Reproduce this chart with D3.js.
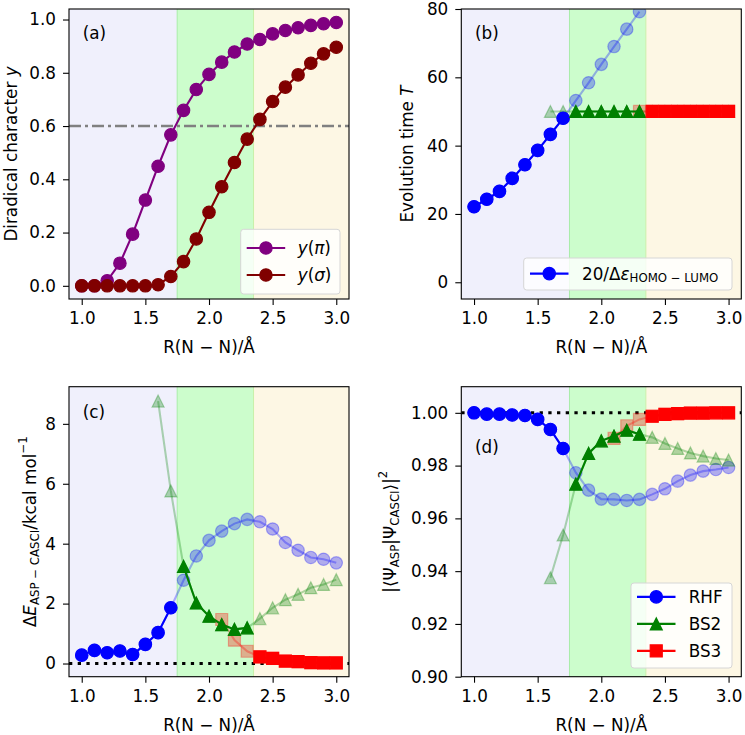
<!DOCTYPE html>
<html>
<head>
<meta charset="utf-8">
<script src="https://cdn.jsdelivr.net/npm/d3@7"></script>
<style>
  body { margin: 0; background: #fff; }
  svg text { font-family: "DejaVu Sans", sans-serif; fill: #000; }
</style>
</head>
<body>
<div class="canvas"></div>
<script>
// bond length R(N-N) in Angstrom
const R = [1.0, 1.1, 1.2, 1.3, 1.4, 1.5, 1.6, 1.7, 1.8, 1.9, 2.0,
           2.1, 2.2, 2.3, 2.4, 2.5, 2.6, 2.7, 2.8, 2.9, 3.0];
const xTicks = [1.0, 1.5, 2.0, 2.5, 3.0];
const regionEdges = [1.75, 2.35];

// (a) diradical character
const yPi = [0.0, 0.0, 0.019, 0.085, 0.194, 0.322, 0.449, 0.567, 0.659, 0.737, 0.794,
             0.840, 0.878, 0.908, 0.925, 0.946, 0.959, 0.969, 0.978, 0.984, 0.989];
const ySigma = [0.0, 0.0, 0.0, 0.0, 0.0, 0.0, 0.004, 0.035, 0.091, 0.176, 0.276,
                0.372, 0.463, 0.551, 0.625, 0.692, 0.746, 0.792, 0.836, 0.871, 0.896];
const yThreshold = 0.6;
const yTicksA = [0.0, 0.2, 0.4, 0.6, 0.8, 1.0];

// (b) evolution time
const tRHF = [22.1, 24.3, 26.6, 30.4, 34.4, 38.6, 43.3, 48.0, 53.2, 58.4, 63.8,
              69.0, 74.1, 79.2, null, null, null, null, null, null, null];
const tBS2 = [null, null, null, null, null, null, 50, 50, 50, 50, 50,
              50, 50, 50, 50, 50, 50, 50, 50, 50, 50];
const tBS3 = [null, null, null, null, null, null, null, null, null, null, null,
              null, null, 50, 50, 50, 50, 50, 50, 50, 50];
const yTicksB = [0, 20, 40, 60, 80];

// (c) energy error, kcal/mol
const eRHF = [0.28, 0.44, 0.36, 0.42, 0.30, 0.64, 1.03, 1.86, 2.78, 3.59, 4.11,
              4.42, 4.67, 4.81, 4.73, 4.49, 4.04, 3.78, 3.54, 3.48, 3.36];
const eBS2 = [null, null, null, null, null, null, 8.76, 5.76, 3.24, 2.02, 1.58,
              1.30, 1.14, 1.19, 1.50, 1.86, 2.13, 2.31, 2.53, 2.64, 2.80];
const eBS3 = [null, null, null, null, null, null, null, null, null, null, null,
              1.47, 0.78, 0.41, 0.22, 0.17, 0.08, 0.06, 0.03, 0.02, 0.02];
const yTicksC = [0, 2, 4, 6, 8];

// (d) overlap with CASCI
const sRHF = [1.000, 0.9995, 0.9995, 0.9992, 0.9990, 0.9975, 0.9937, 0.9865, 0.9773, 0.9707, 0.9673,
              0.9672, 0.9668, 0.9672, 0.9691, 0.9712, 0.9741, 0.9764, 0.9779, 0.9785, 0.9793];
const sBS2 = [null, null, null, null, null, null, 0.9375, 0.9537, 0.9730, 0.9846, 0.9894,
              0.9912, 0.9934, 0.9919, 0.9907, 0.9884, 0.9865, 0.9848, 0.9836, 0.9827, 0.9821];
const sBS3 = [null, null, null, null, null, null, null, null, null, null, null,
              0.9903, 0.9951, 0.9975, 0.9987, 0.9994, 0.9997, 0.9999, 0.9999, 1.0, 1.0];
const yTicksD = [0.90, 0.92, 0.94, 0.96, 0.98, 1.00];

const W = 280, H = 290;
const FS = 16.8;
const regionColors = ['#f0f0fc', '#ccfdcc', '#fdf7e4'];

const svg = d3.select('.canvas')
  .append('svg')
  .attr('width', 745)
  .attr('height', 735);
const defs = svg.append('defs');

// mathtext-ish labels
const richText = (sel, parts, size) => {
  let shift = 0;
  parts.forEach(p => {
    const target = p.sub ? size * 0.28 : p.sup ? -size * 0.42 : 0;
    const ts = sel.append('tspan').text(p.t).attr('dy', target - shift);
    shift = target;
    if (p.i) ts.attr('font-style', 'italic');
    if (p.sub || p.sup) ts.attr('font-size', size * 0.7);
  });
};

const markerPath = {
  circle: r => `M${r},0A${r},${r} 0 1,1 ${-r},0A${r},${r} 0 1,1 ${r},0Z`,
  triangle: r => `M0,${-r}L${-r},${r}L${r},${r}Z`,
  square: r => `M${-r},${-r}H${r}V${r}H${-r}Z`
};
const markerSize = { circle: 6.2, triangle: 6.0, square: 6.0 };

const regionOf = r => r < regionEdges[0] ? 0 : r < regionEdges[1] ? 1 : 2;

const makePanel = (p) => {
  const g = svg.append('g').attr('transform', `translate(${p.left},${p.top})`);
  const x = d3.scaleLinear().domain([0.9, 3.1]).range([0, W]);
  const y = d3.scaleLinear().domain(p.yDomain).range([H, 0]);

  defs.append('clipPath').attr('id', 'clip-' + p.id)
    .append('rect').attr('width', W).attr('height', H);

  const bounds = [0.9, ...regionEdges, 3.1];
  g.selectAll('rect.region')
    .data(regionColors)
    .join('rect')
    .attr('class', 'region')
    .attr('x', (d, i) => x(bounds[i]))
    .attr('width', (d, i) => x(bounds[i + 1]) - x(bounds[i]))
    .attr('y', 0)
    .attr('height', H)
    .attr('fill', d => d);
  g.selectAll('line.edge')
    .data(regionEdges)
    .join('line')
    .attr('class', 'edge')
    .attr('x1', d => x(d)).attr('x2', d => x(d))
    .attr('y1', 0).attr('y2', H)
    .attr('stroke', (d, i) => i === 0 ? '#a8eca8' : '#c8f0a8')
    .attr('stroke-width', 1);

  const plot = g.append('g').attr('clip-path', `url(#clip-${p.id})`);

  // axes
  const xAxis = d3.axisBottom(x).tickValues(xTicks)
    .tickFormat(d3.format('.1f')).tickSize(6).tickPadding(7);
  const yAxis = d3.axisLeft(y).tickValues(p.yTicks)
    .tickFormat(d3.format(p.fmt)).tickSize(6).tickPadding(7);
  const xg = g.append('g').attr('transform', `translate(0,${H})`).call(xAxis);
  const yg = g.append('g').call(yAxis);
  [xg, yg].forEach(a => {
    a.select('.domain').remove();
    a.selectAll('line').attr('stroke', '#000').attr('stroke-width', 1.1);
    a.selectAll('text').attr('font-size', FS).attr('font-family', '"DejaVu Sans", sans-serif').attr('fill', '#000');
  });

  g.append('text')
    .attr('x', W / 2).attr('y', H + 48)
    .attr('text-anchor', 'middle')
    .attr('dominant-baseline', 'central')
    .attr('font-size', FS)
    .text('R(N − N)/Å');

  const yl = g.append('text')
    .attr('transform', `translate(${p.ylabelX},${H / 2}) rotate(-90)`)
    .attr('text-anchor', 'middle')
    .attr('dominant-baseline', 'central')
    .attr('font-size', FS);
  richText(yl, p.ylabel, FS);

  g.append('text')
    .attr('x', 13.7).attr('y', p.tagY)
    .attr('dominant-baseline', 'central')
    .attr('font-size', FS)
    .text(`(${p.id})`);

  return { g, plot, x, y };
};

const drawSeries = (panel, values, color, shape, opts) => {
  const { plot, x, y } = panel;
  let pts = R.map((r, i) => ({ r, v: values[i] })).filter(d => d.v != null);
  if (opts.region !== undefined) pts = pts.filter(d => regionOf(d.r) === opts.region);
  const a = opts.faded ? 0.3 : 1;
  const line = d3.line().x(d => x(d.r)).y(d => y(d.v));
  plot.append('path')
    .datum(pts)
    .attr('d', line)
    .attr('fill', 'none')
    .attr('stroke', color)
    .attr('stroke-opacity', a)
    .attr('stroke-width', 2.1);
  plot.selectAll(null)
    .data(pts)
    .enter()
    .append('path')
    .attr('transform', d => `translate(${x(d.r)},${y(d.v)})`)
    .attr('d', markerPath[shape](markerSize[shape]))
    .attr('fill', color)
    .attr('fill-opacity', a)
    .attr('stroke', color)
    .attr('stroke-opacity', a)
    .attr('stroke-width', 1.2);
};

const drawLegend = (panel, box, entries) => {
  const lg = panel.g.append('g');
  lg.append('rect')
    .attr('x', box.x).attr('y', box.y)
    .attr('width', box.w).attr('height', box.h)
    .attr('rx', 3)
    .attr('fill', '#fff').attr('fill-opacity', 0.8)
    .attr('stroke', '#d6d6d6').attr('stroke-width', 1);
  entries.forEach((e, i) => {
    const cy = box.row0 + i * box.step;
    lg.append('line')
      .attr('x1', box.lx).attr('x2', box.lx + 38.5)
      .attr('y1', cy).attr('y2', cy)
      .attr('stroke', e.color).attr('stroke-width', 2.1);
    lg.append('path')
      .attr('transform', `translate(${box.lx + 19.25},${cy})`)
      .attr('d', markerPath[e.shape](markerSize[e.shape]))
      .attr('fill', e.color).attr('stroke', e.color).attr('stroke-width', 1.2);
    const t = lg.append('text')
      .attr('x', box.tx).attr('y', cy)
      .attr('dominant-baseline', 'central')
      .attr('font-size', FS);
    richText(t, e.label, FS);
  });
};

const hline = (panel, v, color, width, dash) => {
  panel.plot.append('line')
    .attr('x1', 0).attr('x2', W)
    .attr('y1', panel.y(v)).attr('y2', panel.y(v))
    .attr('stroke', color).attr('stroke-width', width)
    .attr('stroke-dasharray', dash);
};

const frame = (panel) => {
  panel.g.append('rect')
    .attr('width', W).attr('height', H)
    .attr('fill', 'none').attr('stroke', '#000').attr('stroke-width', 1.1);
};

// ---- (a)
const pa = makePanel({ id: 'a', left: 69, top: 9, yDomain: [-0.0495, 1.0395], yTicks: yTicksA, fmt: '.1f',
  ylabelX: -58, tagY: 24.3,
  ylabel: [{ t: 'Diradical character ' }, { t: 'y', i: true }] });
hline(pa, yThreshold, '#808080', 2.5, '12,4,3,4');
drawSeries(pa, yPi, '#800080', 'circle', {});
drawSeries(pa, ySigma, '#800000', 'circle', {});
drawLegend(pa, { x: 171.7, y: 220.3, w: 99.3, h: 64.7, row0: 239, step: 27, lx: 177.7, tx: 228.7 }, [
  { color: '#800080', shape: 'circle', label: [{ t: 'y', i: true }, { t: '(' }, { t: 'π', i: true }, { t: ')' }] },
  { color: '#800000', shape: 'circle', label: [{ t: 'y', i: true }, { t: '(' }, { t: 'σ', i: true }, { t: ')' }] }
]);
frame(pa);

// ---- (b)
const pb = makePanel({ id: 'b', left: 461.3, top: 9, yDomain: [-4.9, 80], yTicks: yTicksB, fmt: 'd',
  ylabelX: -54, tagY: 24.3,
  ylabel: [{ t: 'Evolution time ' }, { t: 'T', i: true }] });
drawSeries(pb, tRHF, '#0000ff', 'circle', { faded: true });
drawSeries(pb, tBS2, '#008000', 'triangle', { faded: true });
drawSeries(pb, tBS3, '#ff0000', 'square', { faded: true });
drawSeries(pb, tRHF, '#0000ff', 'circle', { region: 0 });
drawSeries(pb, tBS2, '#008000', 'triangle', { region: 1 });
drawSeries(pb, tBS3, '#ff0000', 'square', { region: 2 });
drawLegend(pb, { x: 62.4, y: 249, w: 208.3, h: 32, row0: 264.6, step: 27, lx: 68.7, tx: 120.7 }, [
  { color: '#0000ff', shape: 'circle', label: [{ t: '20/Δ' }, { t: 'ε', i: true }, { t: 'HOMO − LUMO', sub: true }] }
]);
frame(pb);

// ---- (c)
const pc = makePanel({ id: 'c', left: 69, top: 386.7, yDomain: [-0.44, 9.24], yTicks: yTicksC, fmt: 'd',
  ylabelX: -39, tagY: 25.3,
  ylabel: [{ t: 'Δ' }, { t: 'E', i: true }, { t: 'ASP − CASCI', sub: true }, { t: '/kcal mol' }, { t: '−1', sup: true }] });
hline(pc, 0, '#000', 3, '3.3,5.4');
drawSeries(pc, eRHF, '#0000ff', 'circle', { faded: true });
drawSeries(pc, eBS2, '#008000', 'triangle', { faded: true });
drawSeries(pc, eBS3, '#ff0000', 'square', { faded: true });
drawSeries(pc, eRHF, '#0000ff', 'circle', { region: 0 });
drawSeries(pc, eBS2, '#008000', 'triangle', { region: 1 });
drawSeries(pc, eBS3, '#ff0000', 'square', { region: 2 });
frame(pc);

// ---- (d)
const pd = makePanel({ id: 'd', left: 461.3, top: 386.7, yDomain: [0.90, 1.0099], yTicks: yTicksD, fmt: '.2f',
  ylabelX: -71, tagY: 60.3,
  ylabel: [{ t: '|⟨Ψ' }, { t: 'ASP', sub: true }, { t: '|Ψ' }, { t: 'CASCI', sub: true }, { t: '⟩|' }, { t: '2', sup: true }] });
hline(pd, 1.0, '#000', 3, '3.3,5.4');
drawSeries(pd, sRHF, '#0000ff', 'circle', { faded: true });
drawSeries(pd, sBS2, '#008000', 'triangle', { faded: true });
drawSeries(pd, sBS3, '#ff0000', 'square', { faded: true });
drawSeries(pd, sRHF, '#0000ff', 'circle', { region: 0 });
drawSeries(pd, sBS2, '#008000', 'triangle', { region: 1 });
drawSeries(pd, sBS3, '#ff0000', 'square', { region: 2 });
drawLegend(pd, { x: 169.7, y: 196.3, w: 101, h: 85, row0: 210.2, step: 27, lx: 175.7, tx: 227.4 }, [
  { color: '#0000ff', shape: 'circle', label: [{ t: 'RHF' }] },
  { color: '#008000', shape: 'triangle', label: [{ t: 'BS2' }] },
  { color: '#ff0000', shape: 'square', label: [{ t: 'BS3' }] }
]);
frame(pd);
</script>
</body>
</html>
